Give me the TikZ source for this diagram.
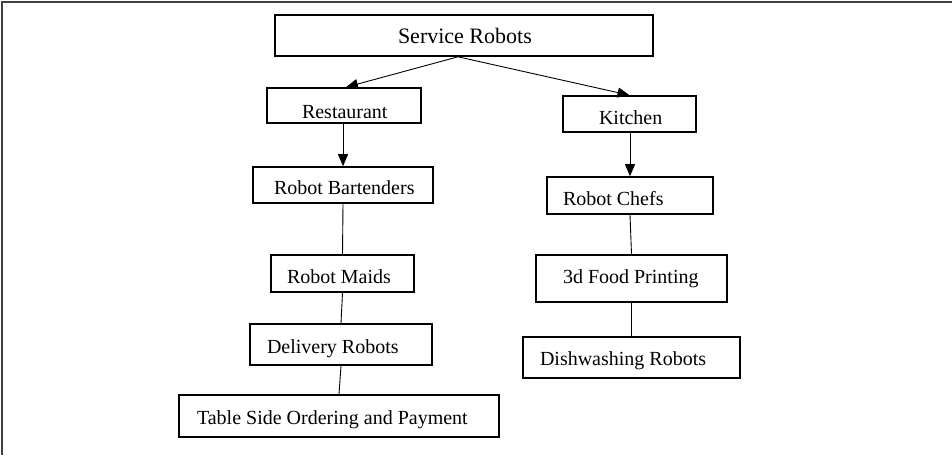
\documentclass[tikz,border=0pt]{standalone}
\usepackage{fontspec}
\setmainfont{Liberation Serif}
\usetikzlibrary{arrows.meta}
\begin{document}
\begin{tikzpicture}[x=1pt,y=-1pt,
  box/.style={draw, line width=1.6pt, inner ysep=0pt,
    font=\fontsize{20}{24}\selectfont, text height=14pt, text depth=4pt},
  link/.style={line width=0.9pt},
  arrowlink/.style={link, -{Triangle[length=12pt,width=10pt]}}]
\useasboundingbox (0,0) rectangle (952,455);
% outer frame (top and left rules)
\draw[line width=2pt, black!75] (2,455) -- (2,2) -- (952,2);
% boxes: name, left, top, right, bottom, left padding of the text,
% downward shift of the text, text
\newcommand{\bx}[8]{%
  \node[box, inner xsep=#6pt, minimum height=#5pt-#3pt]
    (#1) at ({(#2+#4)/2},{(#3+#5)/2})
    {\makebox[\dimexpr #4pt-#2pt-#6pt-#6pt\relax][l]{\raisebox{-#7pt}{#8}}};}
\bx{sr}{275}{15}{653}{56}{123}{2.5}{\fontsize{22}{26}\selectfont Service Robots}
\bx{rest}{267}{88}{421}{123}{35}{8}{Restaurant}
\bx{kit}{563}{96}{696}{132}{36}{5.5}{Kitchen}
\bx{bart}{253}{167}{433}{203}{21}{4}{Robot Bartenders}
\bx{chef}{547}{177}{713}{214}{16}{5}{Robot Chefs}
\bx{food}{536}{255}{727}{302}{27}{0}{3d Food Printing}
\bx{maid}{271}{255}{414}{292}{16}{5}{Robot Maids}
\bx{deliv}{250}{324}{432}{365}{17}{3.5}{Delivery Robots}
\bx{dish}{523}{337}{740}{378}{17}{3}{Dishwashing Robots}
\bx{table}{179}{395}{499}{437}{18}{3}{Table Side Ordering and Payment}
% connectors
\draw[arrowlink] ([xshift=-6pt]sr.south) -- ([xshift=2pt]rest.north);
\draw[arrowlink] ([xshift=-6pt]sr.south) -- (kit.north);
\draw[arrowlink] ([xshift=-1pt]rest.south) -- (bart.north);
\draw[arrowlink] ([xshift=0.5pt]kit.south) -- (chef.north);
\draw[link] (bart.south) -- (maid.north);
\draw[link] (maid.south) -- (deliv.north);
\draw[link] (deliv.south) -- (table.north);
\draw[link] (chef.south) -- (food.north);
\draw[link] (food.south) -- (dish.north);
\end{tikzpicture}
\end{document}
